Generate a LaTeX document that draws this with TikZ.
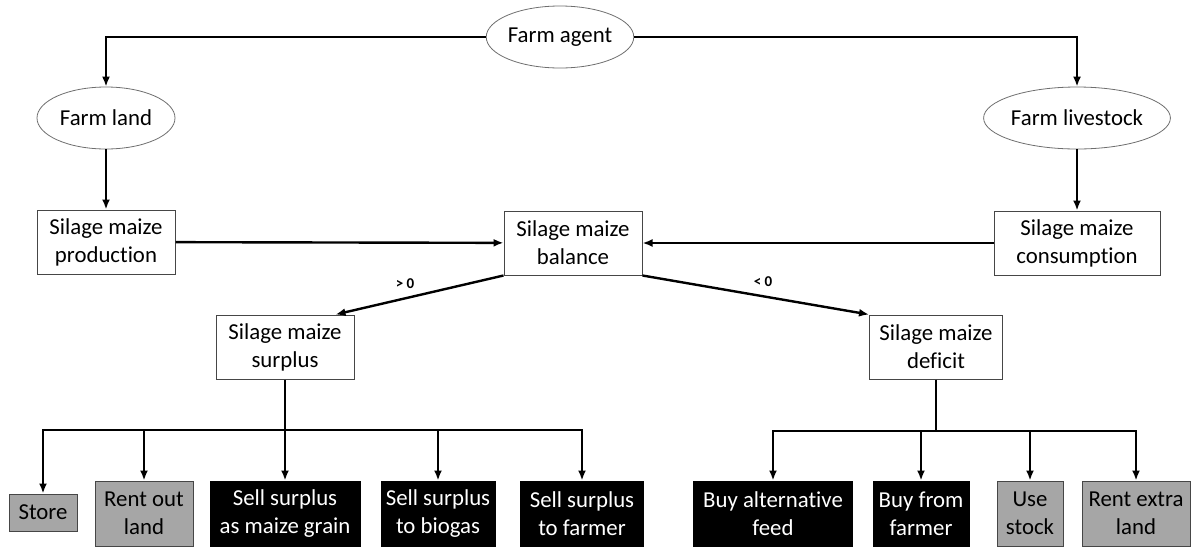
\documentclass[tikz,border=0pt]{standalone}
\usepackage{fontspec}
\setmainfont[Ligatures=NoCommon]{Carlito}
\usepackage{tikz}
\usetikzlibrary{shapes.geometric,arrows.meta}
\definecolor{optgray}{RGB}{166,166,166}
\definecolor{framegray}{RGB}{70,70,70}
\definecolor{ovalgray}{RGB}{110,110,110}
\tikzstyle{ellip}=[ellipse, draw=ovalgray, line width=0.4pt, inner sep=0pt, minimum height=31pt, font=\fontsize{11.4}{14}\selectfont]
\tikzstyle{stage}=[rectangle, draw=framegray, line width=0.5pt, inner sep=0pt, minimum height=32pt, align=center, font=\fontsize{11.4}{14}\selectfont]
\tikzstyle{grayopt}=[stage, fill=optgray, minimum height=32.5pt]
\tikzstyle{blackopt}=[stage, fill=black, draw=black, text=white, minimum height=32.5pt]
\tikzstyle{cond}=[inner sep=0pt, font=\fontsize{7.5}{8}\selectfont\bfseries]
\tikzstyle{flow}=[line width=1.2pt, -{Latex[length=5pt,width=4pt]}]
\newcommand{\ellip}{\node[ellip]}
\newcommand{\stage}{\node[stage]}

\begin{document}
\begin{tikzpicture}[x=0.5pt, y=-0.5pt]
	\useasboundingbox (0,0) rectangle (1192,547);
	%% the farm and its two parts
	\ellip (agent) at (560,37) [minimum width=68.5pt] {Farm agent};
	\ellip (land) at (106,118) [minimum width=69pt] {Farm land};
	\ellip (herd) at (1077,118) [minimum width=83pt] {Farm livestock};
	%% production, balance and consumption
	\stage (prod) at (106,242) [minimum width=69pt] {Silage maize\\production};
	\stage (bal) at (573,243) [minimum width=69pt] {Silage maize\\balance};
	\stage (cons) at (1077,243) [minimum width=83pt] {Silage maize\\consumption};
	\stage (surp) at (285,347) [minimum width=69pt] {Silage maize\\surplus};
	\stage (def) at (936,347) [minimum width=66.5pt] {Silage maize\\deficit};
	\node[cond] (gt) at (405,284) {> 0};
	\node[cond] (lt) at (763,282) {< 0};
	%% options for a surplus
	\node[grayopt, minimum width=34pt, minimum height=18.5pt] (store) at (43,512.5) {Store};
	\node[grayopt, minimum width=49pt] (rentout) at (144,513.5) {Rent out\\land};
	\node[blackopt, minimum width=75pt] (grain) at (285,513.5) {Sell surplus\\as maize grain};
	\node[blackopt, minimum width=57pt] (biogas) at (438,513.5) {Sell surplus\\to biogas};
	\node[blackopt, minimum width=61.5pt] (sellfarmer) at (582,513.5) {Sell surplus\\to farmer};
	%% options for a deficit
	\node[blackopt, minimum width=79.5pt] (altfeed) at (773,513.5) {Buy alternative\\feed};
	\node[blackopt, minimum width=48pt] (buyfarmer) at (921,513.5) {Buy from\\farmer};
	\node[grayopt, minimum width=33pt] (usestock) at (1030,513.5) {Use\\stock};
	\node[grayopt, minimum width=54pt] (rentin) at (1136,513.5) {Rent extra\\land};
	\coordinate (sfork) at (285,430);
	\coordinate (dfork) at (936,431);
	%% for the connectors
	\draw[flow] (agent.west) -| (land.north);
	\draw[flow] (agent.east) -| (herd.north);
	\path[flow]
		(land) edge (prod)
		(herd) edge (cons)
		(prod) edge (bal)
		(cons) edge (bal)
		(bal.south west) edge ([xshift=-9.5pt]surp.north east)
		(bal.south east) edge (def.north west)
		;
	\draw[line width=1.2pt] (surp.south) -- (sfork);
	\draw[line width=1.2pt] (def.south) -- (dfork);
	\foreach \opt in {store,rentout,grain,biogas,sellfarmer}
		\draw[flow] (sfork) -| (\opt.north);
	\foreach \opt in {altfeed,buyfarmer,usestock,rentin}
		\draw[flow] (dfork) -| (\opt.north);
\end{tikzpicture}
\end{document}
